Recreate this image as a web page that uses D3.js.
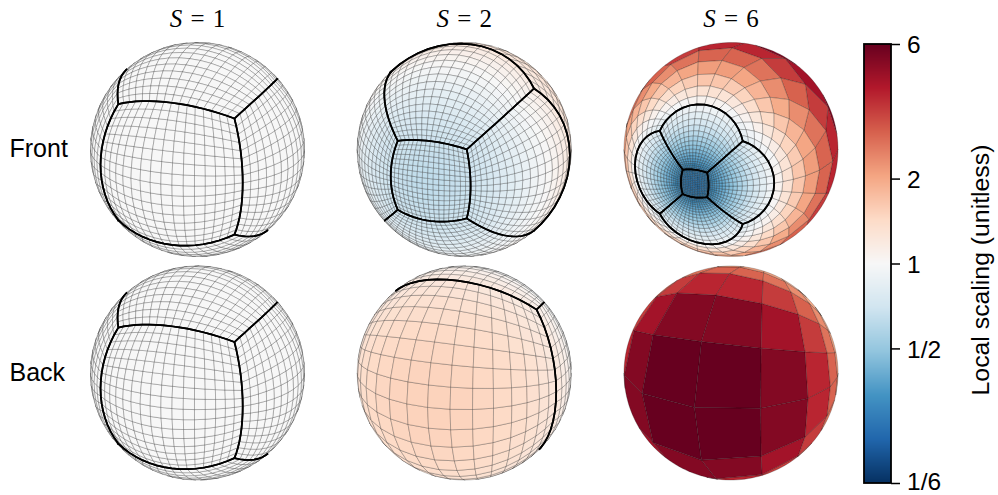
<!DOCTYPE html>
<html><head><meta charset="utf-8">
<script src="https://cdn.jsdelivr.net/npm/d3@7"></script>
<style>html,body{margin:0;padding:0;background:#fff}svg{display:block}text{fill:#000}</style>
</head><body><svg id="c" width="998" height="495"></svg>
<script>
const stretchFactors = [1, 2, 6];
const rowLabels = ["Front", "Back"];
const rowTargetSign = [1, -1];
const cellsPerFaceEdge = 16;
const viewRotation = [-20, -20, 0];
const tickValues = [1/6, 1/2, 1, 2, 6];
const tickLabels = ["1/6", "1/2", "1", "2", "6"];
const colorStops = ["#053061","#2166ac","#4393c3","#92c5de","#d1e5f0","#f7f7f7","#fddbc7","#f4a582","#d6604d","#b2182b","#67001f"];
const colorbarLabel = "Local scaling (unitless)";
const lowExponent = {1:1, 2:0.65, 6:0.7};
const highExponent = {1:1, 2:0.6, 6:1.06};

const columnX = d3.scalePoint().domain(stretchFactors).range([197.5, 731]);
const rowY = d3.scalePoint().domain(rowLabels).range([149.5, 373]);
const radius = 107;

const svg = d3.select("#c");

const logNorm = d3.scaleLog().domain([1/6, 6]).range([0, 1]);
const ramp = d3.scaleLinear().domain(d3.range(colorStops.length).map(i => i/(colorStops.length-1))).range(colorStops).clamp(true);
const colorOf = v => ramp(logNorm(v));

const norm = p => { const l = Math.hypot(p[0],p[1],p[2]); return [p[0]/l,p[1]/l,p[2]/l]; };
const toLonLat = p => [Math.atan2(p[1],p[0])*180/Math.PI, Math.asin(Math.max(-1,Math.min(1,p[2])))*180/Math.PI];

const bMax = Math.atan(Math.SQRT1_2);
const edgeCoord = d3.range(cellsPerFaceEdge+1).map(i => Math.tan(-bMax + 2*bMax*i/cellsPerFaceEdge)*Math.SQRT2);
const midCoord = d3.range(cellsPerFaceEdge).map(i => Math.tan(-bMax + 2*bMax*(i+0.5)/cellsPerFaceEdge)*Math.SQRT2);

const faces = [];
[0,1,2].forEach(ax => [1,-1].forEach(s => faces.push((a,b) => {
  const p = [0,0,0]; p[ax] = s; p[(ax+1)%3] = a; p[(ax+2)%3] = b; return norm(p);
})));

function stretch(p, S, sign) {
  if (S === 1) return {q:p, scale:1};
  const c = 1/S;
  const t = [sign,0,0];
  const cosT = Math.max(-1,Math.min(1,p[0]*sign));
  const th = Math.acos(cosT);
  const thNew = 2*Math.atan(c*Math.tan(th/2));
  const scale = c/(Math.cos(th/2)**2 + c*c*Math.sin(th/2)**2);
  const sinT = Math.sin(th);
  if (sinT < 1e-9) return {q:p, scale};
  const k = Math.sin(thNew)/sinT;
  const q = [0,1,2].map(i => Math.cos(thNew)*t[i] + k*(p[i]-cosT*t[i]));
  return {q, scale};
}

stretchFactors.forEach(S => rowLabels.forEach((row, ri) => {
  const sign = rowTargetSign[ri];
  const proj = d3.geoOrthographic().rotate(viewRotation).scale(radius)
     .translate([columnX(S), rowY(row)]).precision(0);
  const geo = d3.geoPath(proj);
  const P = (f,a,b) => toLonLat(stretch(f(a,b),S,sign).q);
  const cells = [];
  faces.forEach(f => {
    midCoord.forEach((ma,i) => midCoord.forEach((mb,j) => {
      const ctr = stretch(f(ma,mb),S,sign);
      const a0=edgeCoord[i],a1=edgeCoord[i+1],b0=edgeCoord[j],b1=edgeCoord[j+1];
      let ring = [P(f,a0,b0),P(f,a1,b0),P(f,a1,b1),P(f,a0,b1)];
      ring.push(ring[0]);
      let poly = {type:"Polygon",coordinates:[ring]};
      if (d3.geoArea(poly) > 2*Math.PI) poly = {type:"Polygon",coordinates:[ring.slice().reverse()]};
      const d = geo(poly);
      if (!d) return;
      const ex = ctr.scale < 1 ? lowExponent[S] : highExponent[S];
      cells.push({d, v:Math.pow(ctr.scale, ex)});
    }));
  });
  const g = svg.append("g");
  g.selectAll("path.cell").data(cells).join("path").attr("class","cell")
    .attr("d", d => d.d).attr("fill", d => colorOf(d.v))
    .attr("stroke","#000").attr("stroke-opacity",0.42).attr("stroke-width",0.55)
    .attr("stroke-linejoin","round");
  const edges = [];
  faces.forEach(f => {
    [[-1,null],[1,null],[null,-1],[null,1]].forEach(([fa,fb]) => {
      edges.push(edgeCoord.map(c => fa!==null ? P(f,fa,c) : P(f,c,fb)));
    });
  });
  g.selectAll("path.edge").data(edges).join("path").attr("class","edge")
    .attr("d", d => geo({type:"LineString",coordinates:d}))
    .attr("fill","none").attr("stroke","#000").attr("stroke-width",1.7);
}));

columnX.domain().forEach(S => {
  const t = svg.append("text").attr("x",columnX(S)).attr("y",27).attr("text-anchor","middle")
    .attr("font-family","'Liberation Serif',serif").attr("font-size",25).attr("word-spacing",2);
  t.append("tspan").attr("font-style","italic").text("S");
  t.append("tspan").text(" = "+S);
});
rowLabels.forEach(r => svg.append("text").attr("x",9.5).attr("y",rowY(r)+7.5)
  .attr("font-family","'Liberation Sans',sans-serif").attr("font-size",25).text(r));

const barX = 864, barW = 27, barTop = 44, barBottom = 483;
const barScale = d3.scaleLog().domain([1/6,6]).range([barBottom,barTop]);
svg.append("g").selectAll("rect").data(d3.range(barTop,barBottom,1)).join("rect")
  .attr("x",barX).attr("width",barW).attr("y",d=>d).attr("height",1)
  .attr("shape-rendering","crispEdges")
  .attr("fill",d=>colorOf(barScale.invert(d+0.5)));
svg.append("rect").attr("x",barX).attr("y",barTop).attr("width",barW).attr("height",barBottom-barTop)
  .attr("fill","none").attr("stroke","#000").attr("stroke-width",1.8);
const axis = d3.axisRight(barScale).tickValues(tickValues).tickSize(9).tickPadding(7)
  .tickFormat((d,i)=>tickLabels[i]);
const ag = svg.append("g").attr("transform",`translate(${barX+barW},0)`).call(axis);
ag.select(".domain").remove();
ag.selectAll("line").attr("stroke","#000").attr("stroke-width",1.5);
ag.selectAll("text").attr("font-family","'Liberation Sans',sans-serif").attr("font-size",24.5).attr("fill","#000")
  .attr("dy",(d,i)=> i===0 ? "0.28em" : "0.36em");
svg.append("text").attr("transform","translate(989,270) rotate(-90)").attr("text-anchor","middle")
  .attr("font-family","'Liberation Sans',sans-serif").attr("font-size",24.8).text(colorbarLabel);
</script></body></html>
